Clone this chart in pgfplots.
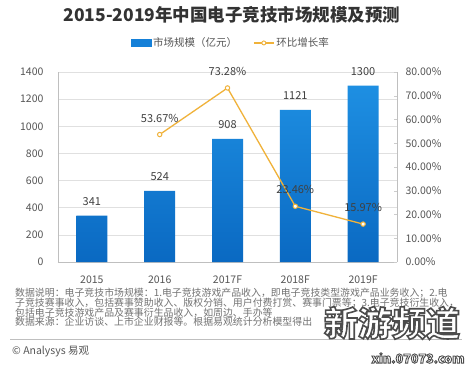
\documentclass[border=0pt]{standalone}
\usepackage{fontspec}
\setmainfont{Noto Sans CJK SC}
\usepackage{pgfplots}
\pgfplotsset{compat=1.18}
\definecolor{bartop}{HTML}{1E8FE2}
\definecolor{barbot}{HTML}{0A69C2}
\definecolor{barblue}{HTML}{1580D8}
\definecolor{lineor}{HTML}{F0B23A}
\definecolor{labgray}{HTML}{555555}
\definecolor{notegray}{HTML}{737373}
\pgfplotstableread{
x val
0 341
1 524
2 908
3 1121
4 1300
}\bardata
\pgfplotstableread{
x rate
1 53.67
2 73.28
3 23.46
4 15.97
}\ratedata
\newcommand{\outlined}[2]{\special{pdf:literal direct 2 Tr #1 w 0.3 G}#2\special{pdf:literal direct 0 Tr}}
\begin{document}
\begin{tikzpicture}
\path[use as bounding box, fill=white] (0pt,0pt) rectangle (471pt,370pt);
\begin{axis}[at={(58pt,108pt)}, anchor=south west, scale only axis,
  width=339pt, height=190pt,
  xmin=-0.5, xmax=4.5, ymin=0, ymax=1400,
  ytick={0,200,...,1400}, xtick={0,...,4},
  xticklabels={2015,2016,2017F,2018F,2019F},
  axis y line*=left, axis x line*=bottom,
  ymajorgrids, grid style={black!12, line width=0.6pt},
  axis line style={black!25, line width=0.6pt},
  major tick length=0pt,
  /pgf/number format/assume math mode=true,
  /pgf/number format/1000 sep={},
  tick label style={font=\fontsize{10.5}{12}\selectfont, text=labgray},
  yticklabel style={xshift=-11pt},
  xticklabel style={yshift=-10pt},
  ybar, bar width=31pt,
  nodes near coords,
  nodes near coords style={font=\fontsize{11}{13}\selectfont, text=black!75, yshift=6.5pt},
  clip=false]
\addplot[draw=none, top color=bartop, bottom color=barbot] table[x=x, y=val] {\bardata};
\end{axis}
\begin{axis}[at={(58pt,108pt)}, anchor=south west, scale only axis,
  width=339pt, height=190pt,
  xmin=-0.5, xmax=4.5, ymin=0, ymax=80,
  ytick={0,10,...,80},
  axis y line*=right, axis x line=none,
  axis line style={black!25, line width=0.6pt},
  ytick style={black!20, line width=0.5pt}, major tick length=3pt, tick align=inside,
  /pgf/number format/assume math mode=true,
  yticklabel={\pgfmathprintnumber[fixed,fixed zerofill,precision=2]{\tick}\%},
  tick label style={font=\fontsize{10.5}{12}\selectfont, text=labgray},
  yticklabel style={xshift=5pt},
  nodes near coords={\pgfmathprintnumber[fixed,fixed zerofill,precision=2]{\pgfplotspointmeta}\%},
  nodes near coords style={font=\fontsize{11}{13}\selectfont, text=black!75, yshift=8.5pt},
  legend style={at={(0.51,1.153)}, anchor=center, draw=none, fill=none,
    font=\fontsize{10.5}{12}\selectfont, text=labgray,
    legend columns=2, /tikz/every even column/.append style={column sep=14pt}},
  clip=false]
\addlegendimage{legend image code/.code={\fill[barblue] (0pt,-3.5pt) rectangle (20pt,3.5pt);}}
\addlegendentry{市场规模（亿元）}
\addplot[lineor, line width=1.3pt, mark=*, mark size=2.2pt,
  mark options={fill=white, draw=lineor, line width=1pt},
  legend image code/.code={\draw[lineor, line width=1.2pt] (0pt,0pt)--(20pt,0pt); \draw[lineor, fill=white, line width=0.9pt] (10pt,0pt) circle (2pt);}]
  table[x=x, y=rate] {\ratedata};
\addlegendentry{环比增长率}
\end{axis}
\begin{scope}[x=1pt,y=1pt]
\node[font=\fontsize{17.5}{20}\selectfont\bfseries, text=black!80] at (232,355) {2015-2019年中国电子竞技市场规模及预测};
\begin{scope}[every node/.style={anchor=west, inner sep=0pt, font=\fontsize{9.9}{10}\selectfont, text=notegray}]
\node at (15,77) {数据说明：电子竞技市场规模：1.电子竞技游戏产品收入，即电子竞技类型游戏产品业务收入；2.电};
\node at (15,67) {子竞技赛事收入，包括赛事赞助收入、版权分销、用户付费打赏、赛事门票等；3.电子竞技衍生收入，};
\node at (15,57) {包括电子竞技游戏产品及赛事衍生品收入，如周边、手办等};
\node at (15,48) {数据来源：企业访谈、上市企业财报等。根据易观统计分析模型得出};
\end{scope}
\draw[black!25, line width=0.8pt] (10,31) -- (462,31);
\node[anchor=west, inner sep=0pt, font=\fontsize{10.5}{12}\selectfont, text=labgray] at (12,18) {© Analysys 易观};
\node[font=\fontsize{34}{36}\selectfont\bfseries, text=white, inner sep=0pt] at (392,47) {\outlined{1.6}{新游频道}};
\node[font=\fontsize{12.5}{14}\selectfont\bfseries, text=white, inner sep=0pt] at (418,12) {\outlined{0.9}{xin.07073.com}};
\end{scope}
\end{tikzpicture}
\end{document}
